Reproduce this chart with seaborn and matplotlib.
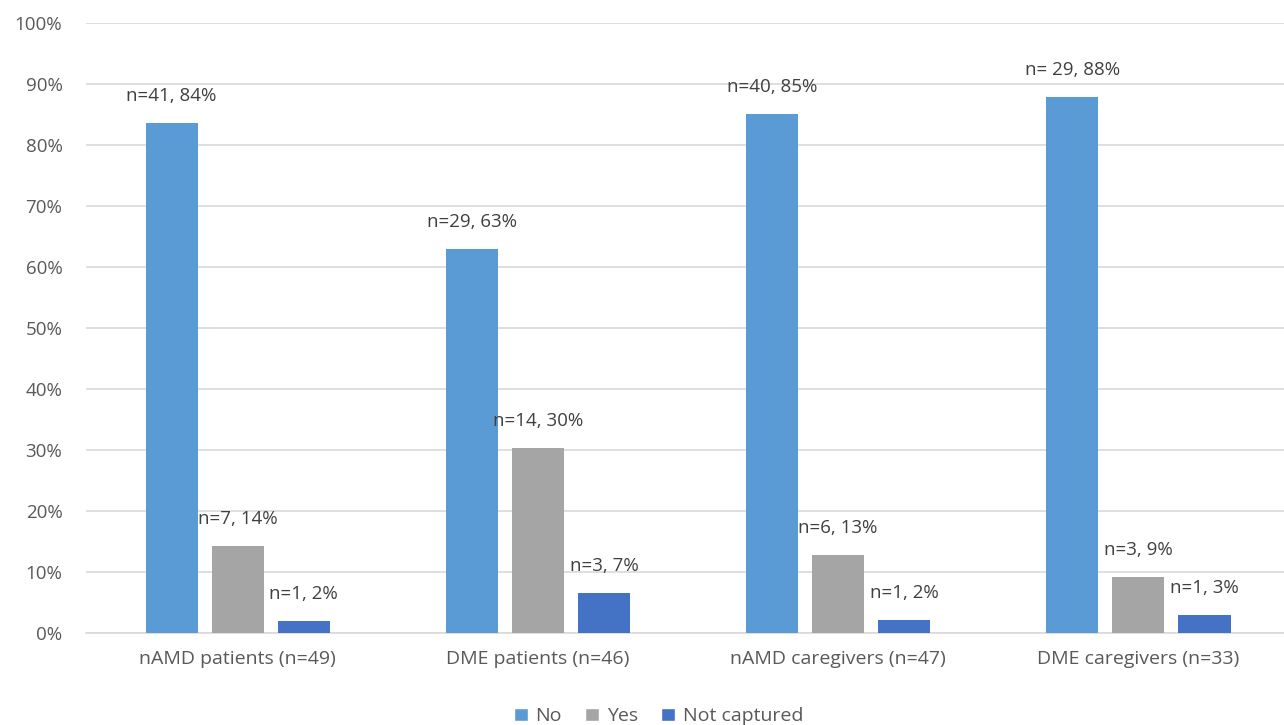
import pandas as pd
import seaborn as sns
import matplotlib.pyplot as plt
from matplotlib.patches import Patch

# data
groups = ['nAMD patients (n=49)', 'DME patients (n=46)', 'nAMD caregivers (n=47)', 'DME caregivers (n=33)']
answers = ['No', 'Yes', 'Not captured']
pct_no = [83.7, 63.0, 85.1, 87.9]
pct_yes = [14.3, 30.4, 12.8, 9.1]
pct_nc = [2.0, 6.5, 2.1, 3.0]
lbl_no = ['n=41, 84%', 'n=29, 63%', 'n=40, 85%', 'n= 29, 88%']
lbl_yes = ['n=7, 14%', 'n=14, 30%', 'n=6, 13%', 'n=3, 9%']
lbl_nc = ['n=1, 2%', 'n=3, 7%', 'n=1, 2%', 'n=1, 3%']

colors = ['#5B9BD5', '#A5A5A5', '#4472C4']

rows = []
for i, g in enumerate(groups):
    for a, p, l in zip(answers, [pct_no, pct_yes, pct_nc], [lbl_no, lbl_yes, lbl_nc]):
        rows.append({'group': g, 'answer': a, 'pct': p[i], 'label': l[i]})
df = pd.DataFrame(rows)

sns.set_style('white')
plt.rcParams['font.family'] = ['Open Sans', 'DejaVu Sans']

fig = plt.figure(figsize=(12.84, 7.25), dpi=100)
ax = fig.add_axes([0.067, 0.127, 0.933, 0.841])

sns.barplot(data=df, x='group', y='pct', hue='answer', hue_order=answers,
            palette=colors, saturation=1, width=0.66, gap=0.21, ax=ax,
            legend=False, edgecolor='none', zorder=3)

# data labels, centered above each bar
for cont, a in zip(ax.containers, answers):
    labs = df[df['answer'] == a]['label'].tolist()
    ax.bar_label(cont, labels=labs, padding=13, fontsize=13.5, color='#404040')

ax.set_ylim(0, 100)
ax.set_xlim(-0.505, 3.485)
ax.set_yticks(range(0, 101, 10))
ax.set_yticklabels([f'{v}%' for v in range(0, 101, 10)], fontsize=13.5, color='#595959')
ax.tick_params(axis='x', labelsize=14, colors='#595959', length=0, pad=12)
ax.tick_params(axis='y', length=0, pad=17)
ax.set_xlabel('')
ax.set_ylabel('')
ax.yaxis.grid(True, color='#D9D9D9', linewidth=1.2, zorder=0)
for s in ['top', 'right', 'left']:
    ax.spines[s].set_visible(False)
ax.spines['bottom'].set_color('#D9D9D9')
ax.spines['bottom'].set_linewidth(1.2)

handles = [Patch(facecolor=c, label=a) for c, a in zip(colors, answers)]
fig.legend(handles=handles, loc='center', bbox_to_anchor=(0.513, 0.012), ncol=3,
           frameon=False, fontsize=14, handlelength=0.7, handleheight=0.7,
           handletextpad=0.4, columnspacing=1.2, labelcolor='#595959')

fig.savefig('out.png', dpi=100)
